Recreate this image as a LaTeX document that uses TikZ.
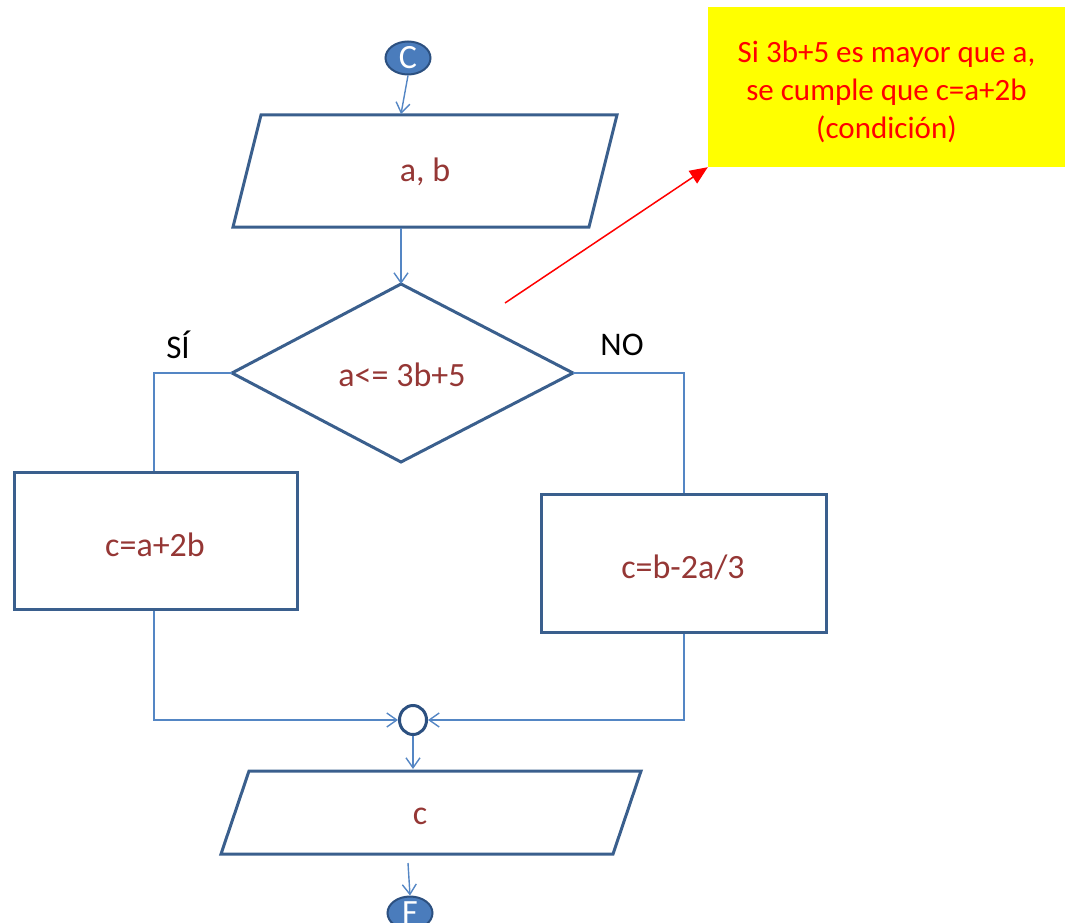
\documentclass[tikz,border=0pt]{standalone}
\usepackage{fontspec}
\setmainfont{Carlito}
\usetikzlibrary{shapes.geometric,arrows.meta}
\definecolor{shapeblue}{RGB}{58,95,141}
\definecolor{connblue}{RGB}{84,134,196}
\definecolor{termfill}{RGB}{74,124,188}
\definecolor{termline}{RGB}{44,80,128}
\definecolor{labelred}{RGB}{149,55,53}
\definecolor{noteyellow}{RGB}{255,255,0}
\definecolor{notered}{RGB}{255,0,0}
\begin{document}
\begin{tikzpicture}[x=1pt,y=-1pt,
  shapeline/.style={draw=shapeblue, line width=3pt, line join=miter},
  conn/.style={draw=connblue, line width=1.4pt},
  arr/.style={conn, -{Straight Barb[length=10pt,width=14pt,line width=1.4pt]}},
  lbl/.style={text=labelred, font=\fontsize{34}{40}\selectfont},
  branch/.style={text=black, font=\fontsize{33}{40}\selectfont},
  terminal/.style={ellipse, fill=termfill, draw=termline, line width=2pt,
    minimum width=45pt, minimum height=33pt, inner sep=0pt, text=white,
    font=\fontsize{34}{34}\selectfont},
  procbox/.style={rectangle, shapeline, inner sep=0pt},
]
\clip (0,0) rectangle (1065,923);
\useasboundingbox (0,0) rectangle (1065,923);

% start terminal
\node[terminal] (start) at (408,58) {C};

% input a, b
\coordinate (in1tl) at (261,115);
\coordinate (in1tr) at (617,115);
\coordinate (in1br) at (589,227);
\coordinate (in1bl) at (233,227);
\draw[shapeline] (in1tl) -- (in1tr) -- (in1br) -- (in1bl) -- cycle;
\coordinate (in1top) at (401,114);
\coordinate (in1bot) at (401,228);
\node[lbl] (in1) at (425,172) {a, b};

% decision
\coordinate (dtop) at (401,284);
\coordinate (dleft) at (232,373);
\coordinate (dright) at (573,373);
\coordinate (dbot) at (401,462);
\draw[shapeline] (dtop) -- (dright) -- (dbot) -- (dleft) -- cycle;
\node[lbl] (cond) at (402,375) {a<= 3b+5};

\node[branch] (yes) at (178,345) {SÍ};
\node[branch] (no) at (622,345) {NO};

% processes
\node[procbox, minimum width=283pt, minimum height=137pt] (left) at (155.5,540.5) {};
\node[lbl] (lefttxt) at (155,545) {c=a+2b};
\node[procbox, minimum width=285pt, minimum height=138pt] (right) at (683.5,563) {};
\node[lbl] (righttxt) at (683,567) {c=b-2a/3};

% join connector
\node[ellipse, draw=termline, line width=3pt, fill=white, minimum width=27pt,
  minimum height=29pt, inner sep=0pt] (join) at (413,720) {};

% output c
\coordinate (outtl) at (249,771);
\coordinate (outtr) at (641,771);
\coordinate (outbr) at (613,854);
\coordinate (outbl) at (221,854);
\draw[shapeline] (outtl) -- (outtr) -- (outbr) -- (outbl) -- cycle;
\coordinate (outtop) at (413,769);
\coordinate (outbot) at (408,863);
\node[lbl] (outtxt) at (420,816) {c};

% end terminal
\node[terminal] (stop) at (410,913) {F};

% connectors
\draw[arr] (start.south) -- (in1top);
\draw[arr] (in1bot) -- (dtop);
\draw[conn] (dleft) -- (154,373) -- (left.north -| 154,0);
\draw[conn] (dright) -- (684,373) -- (right.north -| 684,0);
\draw[arr] (left.south -| 154,0) -- (154,720) -- (join.west);
\draw[arr] (right.south -| 684,0) -- (684,720) -- (join.east);
\draw[arr] (join.south) -- (outtop);
\draw[arr] (outbot) -- (stop.north);

% note
\node[rectangle, fill=noteyellow, minimum width=357pt, minimum height=160pt,
  inner sep=0pt] (note) at (886.5,87) {};
\node[text=notered, align=center, font=\fontsize{31}{38}\selectfont]
  (notetxt) at (886.5,92)
  {Si 3b+5 es mayor que a,\\se cumple que c=a+2b\\(condición)};
\coordinate (pointer) at (505,303);
\draw[draw=notered, line width=1.5pt, -{Triangle[length=18pt,width=15pt]}]
  (pointer) -- (note.south west);
\end{tikzpicture}
\end{document}
